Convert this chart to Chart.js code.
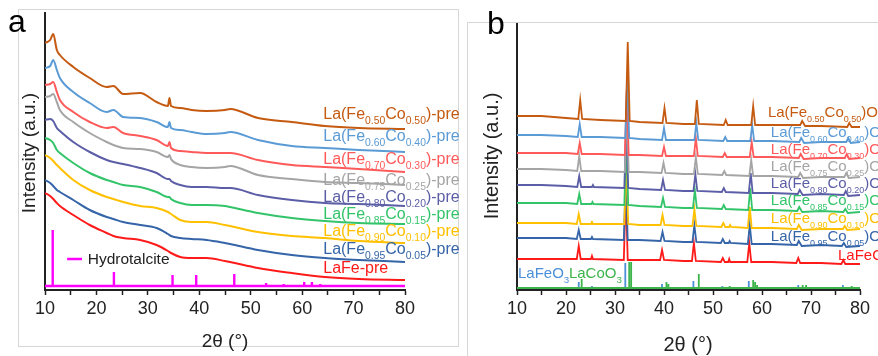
<!DOCTYPE html>
<html>
<head>
<meta charset="utf-8">
<script src="https://cdn.jsdelivr.net/npm/chart.js@4"></script>
<style>
  body { margin: 0; background: #fff; width: 878px; height: 356px; overflow: hidden; position: relative; }
  canvas { position: absolute; top: 0; }
  #chartA { left: 0; }
  #chartB { left: 460px; }
</style>
</head>
<body>
<canvas id="chartA" width="460" height="356"></canvas>
<canvas id="chartB" width="418" height="356"></canvas>
<script>
// ---- panel a : precursors (2θ grid shared by all curves) ----
const thetaA = [10, 11, 11.6, 12.3, 12.9, 15.5, 18.7, 22, 23.3, 25.2, 28.5, 31.7, 33.9, 34.2, 34.5, 36.3, 38.5, 41.4, 45, 46, 51.4, 58, 64.4, 71, 80];
const preCo50 = [247, 250, 256, 240, 235, 223, 212, 203, 204, 196, 197, 188, 184, 192, 184, 182, 180, 179, 180, 181, 172, 168, 164, 162, 161];
const preCo40 = [222, 224, 230, 220, 212, 198, 187, 178, 180, 173, 172, 168, 163, 168, 162, 160, 158, 156, 157, 158, 150, 144, 142, 140, 138];
const preCo30 = [205, 206, 208, 198, 190, 178, 168, 162, 163, 157, 154, 150, 144, 148, 142, 139, 138, 137, 137, 137, 130, 125, 123, 121, 118];
const preCo25 = [193, 194, 196, 188, 180, 168, 157, 148, 145, 142, 141, 138, 133, 135, 131, 125, 123, 122, 123, 124, 115, 111, 108, 107, 105];
const preCo20 = [170, 171, 169, 162, 159, 148, 138, 130, 128, 126, 122, 117, 111, 111, 109, 105, 103, 103, 102, 102, 95, 90, 87, 86, 84];
const preCo15 = [152, 150, 147, 140, 137, 127, 117, 110, 108, 105, 103, 98, 93, 93, 91, 87, 85, 85, 84, 83, 77, 72, 69, 67, 66];
const preCo10 = [135, 132, 129, 125, 122, 110, 100, 93, 91, 88, 84, 82, 78, 77, 76, 70, 68, 68, 65, 64, 58, 54, 52, 49, 47];
const preCo05 = [110, 107, 104, 100, 98, 90, 80, 73, 71, 68, 65, 62, 56, 55, 54, 52, 51, 50, 47, 46, 40, 35, 32, 30, 28];
const preLaFe = [97, 94, 91, 87, 84, 75, 65, 57, 54, 52, 50, 45, 39, 38, 37, 33, 32, 32, 29, 28, 22, 17, 13, 11, 10];

// hydrotalcite reference lines
const htPos = [11.5, 23.4, 34.8, 39.4, 46.8, 53.0, 56.4, 60.4, 61.9, 63.5, 66.0, 75.0, 76.2];
const htInt = [60, 18, 15, 15, 16, 7, 6, 8, 8, 6, 5, 5, 5];
const htBase = 4;

// ---- panel b : calcined perovskites [2θ, intensity] ----
const calCo50 = [[10,174],[15,174],[20,172],[22.5,171],[22.9,190],[23.3,171],[27,170],[32.2,169],[32.6,248],[33.0,169],[35,168],[39.7,167],[40.1,182],[40.5,167],[44,166],[46.3,166],[46.7,190],[47.1,166],[52.2,165],[52.6,170],[53.0,165],[57.8,165],[58.2,184],[58.6,165],[62,165],[67.8,165],[68.2,169],[68.8,164],[72,164],[77.4,163],[77.8,167],[78.3,163],[80,163]];
const calCo40 = [[10,155],[15,155],[20,154],[22.4,153],[22.8,166],[23.2,153],[27,153],[32.1,152],[32.5,212],[32.9,152],[35,151],[39.6,150],[40.0,162],[40.4,150],[44,150],[46.2,150],[46.6,167],[47.0,150],[52.1,149],[52.5,153],[52.9,149],[57.6,149],[58.0,165],[58.4,149],[62,149],[67.6,148],[68.0,152],[68.6,147],[72,148],[77.2,148],[77.6,152],[78.1,147],[80,148]];
const calCo30 = [[10,137],[15,137],[20,137],[22.4,136],[22.8,147],[23.2,136],[27,136],[32.0,135],[32.4,200],[32.8,135],[35,135],[39.6,134],[40.0,143],[40.4,134],[44,134],[46.1,134],[46.5,152],[46.9,134],[52.0,133],[52.4,137],[52.8,133],[57.5,133],[57.9,148],[58.3,133],[62,133],[67.5,132],[67.9,136],[68.5,131],[72,132],[76.9,132],[77.3,136],[77.8,131],[80,132]];
const calCo25 = [[10,121],[15,121],[20,120],[22.3,119],[22.7,134],[23.1,119],[27,119],[32.0,118],[32.4,183],[32.8,118],[35,118],[39.5,117],[39.9,127],[40.3,117],[44,116],[46.1,116],[46.5,133],[46.9,116],[51.9,115],[52.3,119],[52.7,115],[57.4,114],[57.8,130],[58.2,114],[62,114],[67.4,113],[67.8,117],[68.4,112],[72,113],[76.8,113],[77.2,117],[77.7,112],[80,113]];
const calCo20 = [[10,105],[15,105],[20,104],[22.3,103],[22.7,114],[23.1,103],[25.3,103],[25.5,105],[25.7,103],[31.9,102],[32.3,167],[32.7,102],[35,101],[39.4,100],[39.8,110],[40.2,100],[44,99],[46.0,99],[46.4,116],[46.8,99],[51.8,98],[52.2,102],[52.6,98],[57.3,97],[57.7,117],[58.1,97],[62,97],[67.3,96],[67.7,100],[68.3,95],[72,96],[76.7,95],[77.1,99],[77.6,94],[80,95]];
const calCo15 = [[10,87],[15,87],[20,87],[22.3,86],[22.7,96],[23.1,86],[25.2,86],[25.4,88],[25.6,86],[31.9,85],[32.3,150],[32.7,85],[35,84],[39.4,83],[39.8,92],[40.2,83],[44,82],[45.9,82],[46.3,100],[46.7,82],[51.8,81],[52.2,85],[52.6,81],[57.2,80],[57.6,102],[58.0,80],[62,80],[67.2,79],[67.6,83],[68.2,78],[72,79],[76.6,78],[77.0,81],[77.5,77],[80,78]];
const calCo10 = [[10,67],[15,67],[20,67],[22.2,66],[22.6,76],[23.0,66],[25.1,66],[25.3,68],[25.5,66],[31.9,66],[32.3,131],[32.7,66],[35,65],[39.3,65],[39.7,75],[40.1,65],[44,64],[45.8,64],[46.2,81],[46.6,64],[51.7,63],[52.1,67],[52.5,63],[53.3,63],[53.5,65],[53.7,63],[57.1,62],[57.5,83],[57.9,62],[62,62],[67.1,61],[67.5,65],[68.1,60],[72,61],[76.5,61],[76.9,64],[77.4,60],[80,61]];
const calCo05 = [[10,52],[15,52],[20,52],[22.2,51],[22.6,60],[23.0,51],[25.1,51],[25.3,53],[25.5,51],[31.8,50],[32.2,115],[32.6,50],[35,50],[39.3,49],[39.7,58],[40.1,49],[44,48],[45.8,48],[46.2,65],[46.6,48],[51.6,47],[52.0,51],[52.4,47],[53.2,47],[53.4,49],[53.6,47],[57.1,46],[57.5,65],[57.9,46],[62,46],[67.1,45],[67.5,49],[68.1,44],[72,45],[76.3,44],[76.7,47],[77.2,43],[80,44]];
const calLaFe = [[10,31],[15,31],[20,31],[22.2,31],[22.6,44],[23.0,31],[25.1,31],[25.3,34],[25.5,31],[31.8,30],[32.2,100],[32.6,30],[35,30],[39.2,30],[39.6,40],[40.0,30],[44,29],[45.7,29],[46.1,47],[46.5,29],[51.6,28],[52.0,32],[52.4,28],[53.1,28],[53.3,31],[53.5,28],[57.0,28],[57.4,47],[57.8,28],[62,28],[67.0,27],[67.4,32],[67.8,27],[72,27],[76.2,26],[76.6,30],[77.0,26],[80,26]];

// reference patterns
const feoPos = [22.6, 25.3, 32.1, 39.6, 46.0, 51.9, 57.3, 67.4, 72.0, 76.5];
const feoInt = [8, 4, 27, 6, 9, 4, 9, 5, 3, 5];
const cooPos = [23.2, 32.9, 33.3, 40.5, 40.9, 47.1, 53.4, 58.2, 58.6, 59.0, 68.3, 69.0, 70.0, 73.0, 78.3, 79.0];
const cooInt = [11, 28, 28, 8, 6, 16, 4, 10, 8, 5, 5, 5, 3, 3, 4, 3];
const refBase = 2;

// compositions, top curve first
const feFrac = ['0.50', '0.60', '0.70', '0.75', '0.80', '0.85', '0.90', '0.95'];
const coFrac = ['0.50', '0.40', '0.30', '0.25', '0.20', '0.15', '0.10', '0.05'];
const colors = ['#c55a11', '#5b9bd5', '#ff5a5a', '#a5a5a5', '#5b5ea6', '#33c46a', '#ffc000', '#3565a8', '#ff1a1a'];

// label anchors in data units
const labA = { x: 64.1, y: [171, 149, 126, 105, 88, 71, 54, 36, 17] };
const labB = { x: [61.2, 61.8, 61.8, 61.8, 61.8, 61.8, 61.8, 61.8, 75.5], y: [173, 153, 136, 119, 102, 85, 67, 49, 30] };

const FONT = '"Liberation Sans", Arial, sans-serif';

function richText(ctx, x, y, parts, size, color, subRatio) {
  const r = subRatio || 0.65;
  ctx.fillStyle = color;
  ctx.textAlign = 'left';
  ctx.textBaseline = 'alphabetic';
  parts.forEach(function (p) {
    const sub = p[1];
    ctx.font = (sub ? size * r : size) + 'px ' + FONT;
    ctx.fillText(p[0], x, sub ? y + size * 0.32 : y);
    x += ctx.measureText(p[0]).width;
  });
}

function sticks(pos, val, base) {
  const pts = [{ x: 10, y: base }];
  pos.forEach(function (p, i) {
    pts.push({ x: p, y: base }, { x: p, y: val[i] }, { x: p, y: base });
  });
  pts.push({ x: 80, y: base });
  return pts;
}

function xScale() {
  return {
    type: 'linear', min: 10, max: 80,
    afterFit: function (s) { s.height = 66; },
    ticks: {
      stepSize: 5, padding: 3, color: '#222', maxRotation: 0,
      font: { size: 18, family: FONT },
      callback: function (v) { return v % 10 === 0 ? v : ''; }
    },
    grid: { drawOnChartArea: false, drawTicks: true, tickLength: 5, tickColor: '#222', tickWidth: 1.5 },
    border: { display: true, color: '#222', width: 2 }
  };
}

function yScale(max, width) {
  return {
    min: 0, max: max,
    afterFit: function (s) { s.width = width; },
    ticks: { display: false },
    grid: { display: false },
    border: { display: true, color: '#222', width: 2 }
  };
}

// ---------- chart a ----------
const preSeries = [preCo50, preCo40, preCo30, preCo25, preCo20, preCo15, preCo10, preCo05, preLaFe];
const dsA = preSeries.map(function (arr, i) {
  return {
    data: thetaA.map(function (t, j) { return { x: t, y: arr[j] }; }),
    borderColor: colors[i], borderWidth: 2, pointRadius: 0,
    cubicInterpolationMode: 'monotone'
  };
});
dsA.push({ data: sticks(htPos, htInt, htBase), borderColor: '#ff00ff', borderWidth: 2.4, pointRadius: 0, tension: 0 });

const decorA = {
  id: 'decorA',
  afterDraw: function (chart) {
    const ctx = chart.ctx, sx = chart.scales.x, sy = chart.scales.y;
    ctx.save();
    ctx.strokeStyle = '#d6d6d6'; ctx.lineWidth = 1;
    ctx.strokeRect(18.5, 9.5, 440, 337);
    ctx.fillStyle = '#000';
    ctx.font = '32px ' + FONT;
    ctx.fillText('a', 8, 32);
    ctx.font = '19px ' + FONT; ctx.fillStyle = '#222';
    ctx.textAlign = 'center';
    ctx.fillText('2\u03b8 (\u00b0)', 225, 347);
    ctx.save();
    ctx.translate(35, 153); ctx.rotate(-Math.PI / 2);
    ctx.fillText('Intensity (a.u.)', 0, 0);
    ctx.restore();
    const lx = sx.getPixelForValue(labA.x);
    for (let i = 0; i < 8; i++) {
      richText(ctx, lx, sy.getPixelForValue(labA.y[i]),
        [['La(Fe'], [feFrac[i], 1], ['Co'], [coFrac[i], 1], [')-pre']], 16, colors[i]);
    }
    richText(ctx, lx, sy.getPixelForValue(labA.y[8]), [['LaFe-pre']], 16, colors[8]);
    // legend for the reference lines
    const ly = sy.getPixelForValue(31);
    ctx.strokeStyle = '#ff00ff'; ctx.lineWidth = 2.5;
    ctx.beginPath();
    ctx.moveTo(sx.getPixelForValue(14.3), ly); ctx.lineTo(sx.getPixelForValue(17.2), ly);
    ctx.stroke();
    richText(ctx, sx.getPixelForValue(18.3), ly + 5, [['Hydrotalcite']], 15.5, '#222');
    ctx.restore();
  }
};

new Chart(document.getElementById('chartA'), {
  type: 'line',
  data: { datasets: dsA },
  options: {
    responsive: false, animation: false,
    layout: { padding: { left: 0, top: 13, right: 55, bottom: 0 } },
    plugins: { legend: { display: false }, tooltip: { enabled: false } },
    scales: { x: xScale(), y: yScale(277, 45) }
  },
  plugins: [decorA]
});

// ---------- chart b ----------
const calSeries = [calCo50, calCo40, calCo30, calCo25, calCo20, calCo15, calCo10, calCo05, calLaFe];
const dsB = calSeries.map(function (arr, i) {
  return {
    data: arr.map(function (p) { return { x: p[0], y: p[1] }; }),
    borderColor: colors[i], borderWidth: 1.8, pointRadius: 0, tension: 0
  };
});
dsB.push({ data: sticks(cooPos, cooInt, refBase), borderColor: '#3cb44b', borderWidth: 1.8, pointRadius: 0, tension: 0 });
dsB.push({ data: sticks(feoPos, feoInt, refBase), borderColor: '#4a8fd8', borderWidth: 1.8, pointRadius: 0, tension: 0 });

const decorB = {
  id: 'decorB',
  afterDraw: function (chart) {
    const ctx = chart.ctx, sx = chart.scales.x, sy = chart.scales.y;
    ctx.save();
    ctx.strokeStyle = '#d6d6d6'; ctx.lineWidth = 1;
    ctx.strokeRect(7.5, 22.5, 500, 400);
    ctx.fillStyle = '#000';
    ctx.font = '32px ' + FONT;
    ctx.fillText('b', 27, 34);
    ctx.font = '20px ' + FONT; ctx.fillStyle = '#222';
    ctx.textAlign = 'center';
    ctx.fillText('2\u03b8 (\u00b0)', 228, 351);
    ctx.save();
    ctx.translate(38, 156); ctx.rotate(-Math.PI / 2);
    ctx.fillText('Intensity (a.u.)', 0, 0);
    ctx.restore();
    for (let i = 0; i < 8; i++) {
      richText(ctx, sx.getPixelForValue(labB.x[i]), sy.getPixelForValue(labB.y[i]),
        [['La(Fe'], [feFrac[i], 1], ['Co'], [coFrac[i], 1], [')O'], ['3', 1]], 15, colors[i], 0.6);
    }
    richText(ctx, sx.getPixelForValue(labB.x[8]), sy.getPixelForValue(labB.y[8]), [['LaFeO'], ['3', 1]], 15, colors[8], 0.6);
    richText(ctx, sx.getPixelForValue(10.2), sy.getPixelForValue(12), [['LaFeO'], ['3', 1]], 15, '#4a8fd8');
    richText(ctx, sx.getPixelForValue(20.6), sy.getPixelForValue(12), [['LaCoO'], ['3', 1]], 15, '#3cb44b');
    ctx.restore();
  }
};

new Chart(document.getElementById('chartB'), {
  type: 'line',
  data: { datasets: dsB },
  options: {
    responsive: false, animation: false,
    layout: { padding: { left: 0, top: 23, right: 18, bottom: 0 } },
    plugins: { legend: { display: false }, tooltip: { enabled: false } },
    scales: { x: xScale(), y: yScale(267, 57) }
  },
  plugins: [decorB]
});
</script>
</body>
</html>
